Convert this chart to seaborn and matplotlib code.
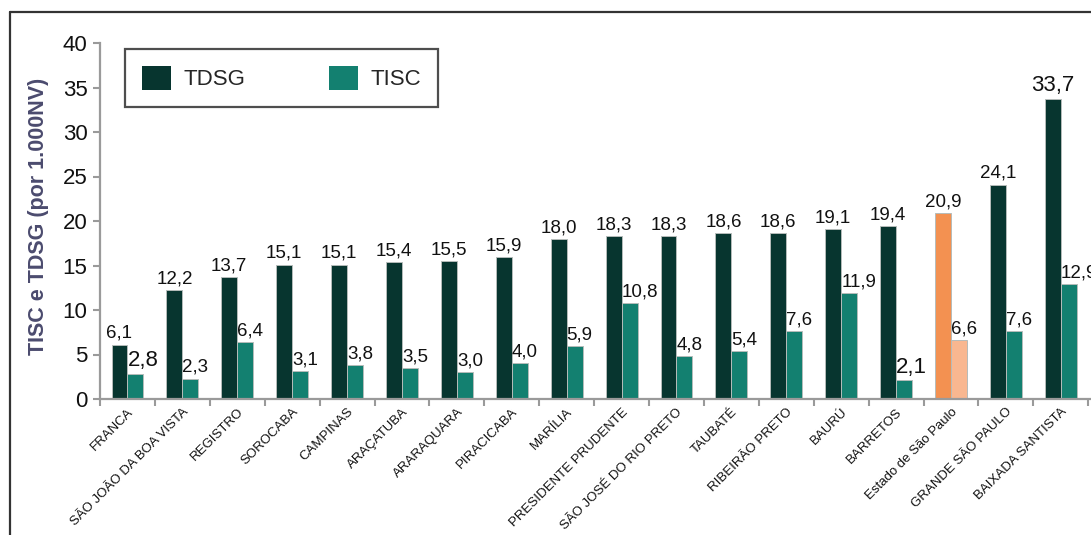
import matplotlib
matplotlib.use("Agg")
import matplotlib.pyplot as plt
import matplotlib.transforms as mtransforms
from matplotlib.lines import Line2D
import seaborn as sns
import pandas as pd

regions = ["FRANCA", "SÃO JOÃO DA BOA VISTA", "REGISTRO", "SOROCABA", "CAMPINAS",
           "ARAÇATUBA", "ARARAQUARA", "PIRACICABA", "MARÍLIA", "PRESIDENTE PRUDENTE",
           "SÃO JOSÉ DO RIO PRETO", "TAUBATÉ", "RIBEIRÃO PRETO", "BAURÚ", "BARRETOS",
           "Estado de São Paulo", "GRANDE SÃO PAULO", "BAIXADA SANTISTA"]
tdsg = [6.1, 12.2, 13.7, 15.1, 15.1, 15.4, 15.5, 15.9, 18.0, 18.3, 18.3, 18.6, 18.6,
        19.1, 19.4, 20.9, 24.1, 33.7]
tisc = [2.8, 2.3, 6.4, 3.1, 3.8, 3.5, 3.0, 4.0, 5.9, 10.8, 4.8, 5.4, 7.6, 11.9, 2.1,
        6.6, 7.6, 12.9]
series = ["TDSG", "TISC"]
yticks = [0, 5, 10, 15, 20, 25, 30, 35, 40]
ylabel = "TISC e TDSG (por 1.000NV)"
highlight = "Estado de São Paulo"
big_labels = {("TISC", "FRANCA"), ("TISC", "BARRETOS"), ("TDSG", "BAIXADA SANTISTA")}

colors = {"TDSG": "#07352f", "TISC": "#138070"}
hl_colors = {"TDSG": "#f39151", "TISC": "#f9b790"}

df = pd.DataFrame({
    "region": regions * 2,
    "serie": ["TDSG"] * len(regions) + ["TISC"] * len(regions),
    "value": tdsg + tisc,
})

sns.set_theme(style="white")
plt.rcParams["font.family"] = ["Liberation Sans", "DejaVu Sans"]

fig = plt.figure(figsize=(10.91, 5.35), dpi=100)
ax = fig.add_axes([100 / 1091, 1 - 399 / 535, 991 / 1091, 356 / 535])

sns.barplot(data=df, x="region", y="value", hue="serie", order=regions,
            hue_order=series, palette=colors, saturation=1, width=0.58, gap=0,
            edgecolor="#b5bcba", linewidth=0.7, ax=ax, legend=True)

hl_idx = regions.index(highlight)
for s, cont in zip(series, ax.containers):
    vals = tdsg if s == "TDSG" else tisc
    for i, (p, v) in enumerate(zip(cont.patches, vals)):
        if i == hl_idx:
            p.set_facecolor(hl_colors[s])
        size = 16 if (s, regions[i]) in big_labels else 13.5
        txt = f"{v:.1f}".replace(".", ",")
        if s == "TDSG":
            ax.annotate(txt, (p.get_x() + p.get_width() / 2, p.get_height()),
                        xytext=(0, 2), textcoords="offset points",
                        ha="center", va="bottom", fontsize=size, color="#111",
                        annotation_clip=False)
        else:
            ax.annotate(txt, (p.get_x(), p.get_height()),
                        xytext=(0, 2), textcoords="offset points",
                        ha="left", va="bottom", fontsize=size, color="#111",
                        annotation_clip=False)

ax.set_ylim(0, 40)
ax.set_xlim(-0.5, 17.55)
ax.set_yticks(yticks)
ax.set_yticklabels([str(t) for t in yticks], fontsize=16, color="#111")
ax.set_xlabel("")
ax.set_ylabel(ylabel, fontsize=15.5, fontweight="bold", color="#4b4b6e")
ax.yaxis.set_label_coords(-51 / 991, 0.514)

ax.set_xticks(range(len(regions)))
ax.set_xticklabels(regions, rotation=45, ha="right", rotation_mode="anchor",
                   fontsize=9.5, color="#111")
offset = mtransforms.ScaledTranslation(8 / 100, 0, fig.dpi_scale_trans)
for lab in ax.get_xticklabels():
    lab.set_transform(lab.get_transform() + offset)
ax.set_xticks([i - 0.5 for i in range(len(regions) + 1)], minor=True)
ax.tick_params(axis="x", which="major", length=0, pad=5)
ax.tick_params(axis="x", which="minor", length=5, width=1.5, color="#9a9a9a",
               direction="out", bottom=True)
ax.tick_params(axis="y", which="major", length=5, width=1.5, color="#9a9a9a",
               direction="out", left=True, pad=4)

for side in ["top", "right"]:
    ax.spines[side].set_visible(False)
for side in ["left", "bottom"]:
    ax.spines[side].set_color("#9a9a9a")
    ax.spines[side].set_linewidth(1.6)

leg = ax.legend(loc="upper left", bbox_to_anchor=(25 / 991, 1 - 6 / 356),
                ncol=2, fontsize=16, frameon=True, fancybox=False,
                borderaxespad=0, handlelength=1.3, handleheight=1.3,
                handletextpad=0.58, columnspacing=3.75, borderpad=0.75)
leg.get_frame().set_edgecolor("#222")
leg.get_frame().set_linewidth(1.6)
for h in leg.legend_handles:
    h.set_edgecolor("none")

fig.add_artist(Line2D([9.5 / 1091, 9.5 / 1091], [0, 1 - 12 / 535],
                      color="#333", lw=1.6, transform=fig.transFigure))
fig.add_artist(Line2D([9.5 / 1091, 1], [1 - 12 / 535, 1 - 12 / 535],
                      color="#333", lw=1.6, transform=fig.transFigure))

fig.savefig("out.png", dpi=100)
